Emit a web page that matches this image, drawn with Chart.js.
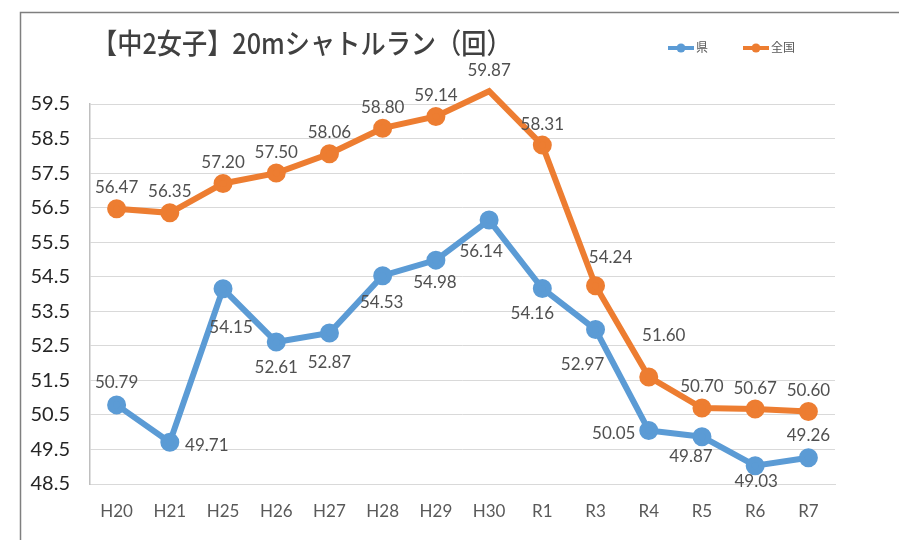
<!DOCTYPE html>
<html>
<head>
<meta charset="utf-8">
<script src="https://cdn.jsdelivr.net/npm/chart.js@4/dist/chart.umd.min.js"></script>
<style>
  html, body { margin: 0; padding: 0; background: #fff; }
  #wrap { position: relative; width: 899px; height: 540px; }
</style>
</head>
<body>
<div id="wrap"><canvas id="c" width="899" height="540"></canvas></div>
<script>
// Survey years (Heisei / Reiwa)
const categories = ['H20', 'H21', 'H25', 'H26', 'H27', 'H28', 'H29', 'H30', 'R1', 'R3', 'R4', 'R5', 'R6', 'R7'];
// Prefecture average (県)
const kenValues = [50.79, 49.71, 54.15, 52.61, 52.87, 54.53, 54.98, 56.14, 54.16, 52.97, 50.05, 49.87, 49.03, 49.26];
// National average (全国)
const zenkokuValues = [56.47, 56.35, 57.20, 57.50, 58.06, 58.80, 59.14, 59.87, 58.31, 54.24, 51.60, 50.70, 50.67, 50.60];
// Y axis tick labels
const yTicks = [48.5, 49.5, 50.5, 51.5, 52.5, 53.5, 54.5, 55.5, 56.5, 57.5, 58.5, 59.5];

const titleText = '【中2女子】20mシャトルラン（回）';
const seriesNames = ['県', '全国'];
const BLUE = '#5B9BD5';
const ORANGE = '#ED7D31';
const LABEL_FONT = '17px Lato, "Liberation Sans", sans-serif';

// Label offsets (dx, dy from the point centre) for each series
const kenLabelPos = [
  [0, -22], [37, 3], [8, 39], [0, 25], [0, 29], [-1, 27], [-1, 22],
  [-8, 31], [-10, 25], [-13, 35], [-35, 3], [-11, 20], [1, 16], [0, -22]
];
const zenLabelPos = [
  [0, -21], [0, -21], [0, -21], [0, -21], [0, -21], [0, -21], [0, -21],
  [0, -21], [0, -21], [15, -28], [15, -41], [0, -21], [0, -21], [0, -21]
];

const decorPlugin = {
  id: 'decor',
  beforeDraw(chart) {
    const ctx = chart.ctx;
    ctx.save();
    ctx.fillStyle = '#fff';
    ctx.fillRect(0, 0, chart.width, chart.height);
    // outer frame
    ctx.strokeStyle = '#7f7f7f';
    ctx.lineWidth = 1.5;
    ctx.beginPath();
    ctx.moveTo(20.5, 545);
    ctx.lineTo(20.5, 12.5);
    ctx.lineTo(905, 12.5);
    ctx.stroke();
    ctx.restore();
  },
  afterDraw(chart) {
    const ctx = chart.ctx;
    ctx.save();
    // title, drawn slightly condensed
    ctx.save();
    ctx.translate(92, 43);
    ctx.scale(0.9, 1);
    ctx.fillStyle = '#404040';
    ctx.font = '500 28px "Noto Sans CJK JP", sans-serif';
    ctx.textBaseline = 'middle';
    ctx.textAlign = 'left';
    ctx.fillText(titleText, 0, 0);
    ctx.restore();

    // legend
    const items = [[seriesNames[0], BLUE, 668], [seriesNames[1], ORANGE, 743]];
    ctx.font = '12px "Noto Sans CJK JP", sans-serif';
    ctx.textBaseline = 'middle';
    ctx.textAlign = 'left';
    items.forEach(([name, col, x]) => {
      ctx.strokeStyle = col;
      ctx.lineWidth = 4;
      ctx.beginPath();
      ctx.moveTo(x, 48);
      ctx.lineTo(x + 26, 48);
      ctx.stroke();
      ctx.fillStyle = col;
      ctx.beginPath();
      ctx.arc(x + 13, 48, 4.5, 0, Math.PI * 2);
      ctx.fill();
      ctx.fillStyle = '#595959';
      ctx.fillText(name, x + 28, 47);
    });

    // data labels
    ctx.font = LABEL_FONT;
    ctx.fillStyle = '#505050';
    ctx.textAlign = 'center';
    ctx.textBaseline = 'middle';
    const offs = [kenLabelPos, zenLabelPos];
    chart.data.datasets.forEach((ds, di) => {
      const meta = chart.getDatasetMeta(di);
      meta.data.forEach((pt, i) => {
        const [dx, dy] = offs[di][i];
        ctx.fillText(ds.data[i].toFixed(2), pt.x + dx, pt.y + dy);
      });
    });
    ctx.restore();
  }
};

new Chart(document.getElementById('c'), {
  type: 'line',
  data: {
    labels: categories,
    datasets: [
      {
        label: seriesNames[0], data: kenValues,
        borderColor: BLUE, backgroundColor: BLUE,
        borderWidth: 6, pointRadius: 6.5, pointHoverRadius: 6.5,
        tension: 0, clip: false
      },
      {
        label: seriesNames[1], data: zenkokuValues,
        borderColor: ORANGE, backgroundColor: ORANGE,
        borderWidth: 6, pointRadius: 6.5, pointHoverRadius: 6.5,
        tension: 0, clip: false
      }
    ]
  },
  options: {
    responsive: false,
    animation: false,
    events: [],
    layout: { padding: { left: 20, top: 104, right: 64, bottom: 0 } },
    plugins: { legend: { display: false }, title: { display: false }, tooltip: { enabled: false } },
    scales: {
      x: {
        offset: true,
        grid: { display: false, drawTicks: false },
        border: { color: '#d9d9d9', width: 1 },
        ticks: { color: '#595959', font: { size: 17, family: 'Lato, "Liberation Sans", sans-serif' }, padding: 17, maxRotation: 0, autoSkip: false },
        afterFit(scale) { scale.height = 56; }
      },
      y: {
        min: yTicks[0], max: yTicks[yTicks.length - 1],
        afterBuildTicks(scale) { scale.ticks = yTicks.map(v => ({ value: v })); },
        grid: { color: '#d9d9d9', lineWidth: 1, drawTicks: false },
        border: { color: '#bfbfbf', width: 1.5 },
        ticks: {
          color: '#262626', padding: 20,
          font: { size: 20, family: 'Lato, "Liberation Sans", sans-serif' },
          callback: v => v.toFixed(1)
        },
        afterFit(scale) { scale.width = 70; }
      }
    }
  },
  plugins: [decorPlugin]
});
</script>
</body>
</html>
